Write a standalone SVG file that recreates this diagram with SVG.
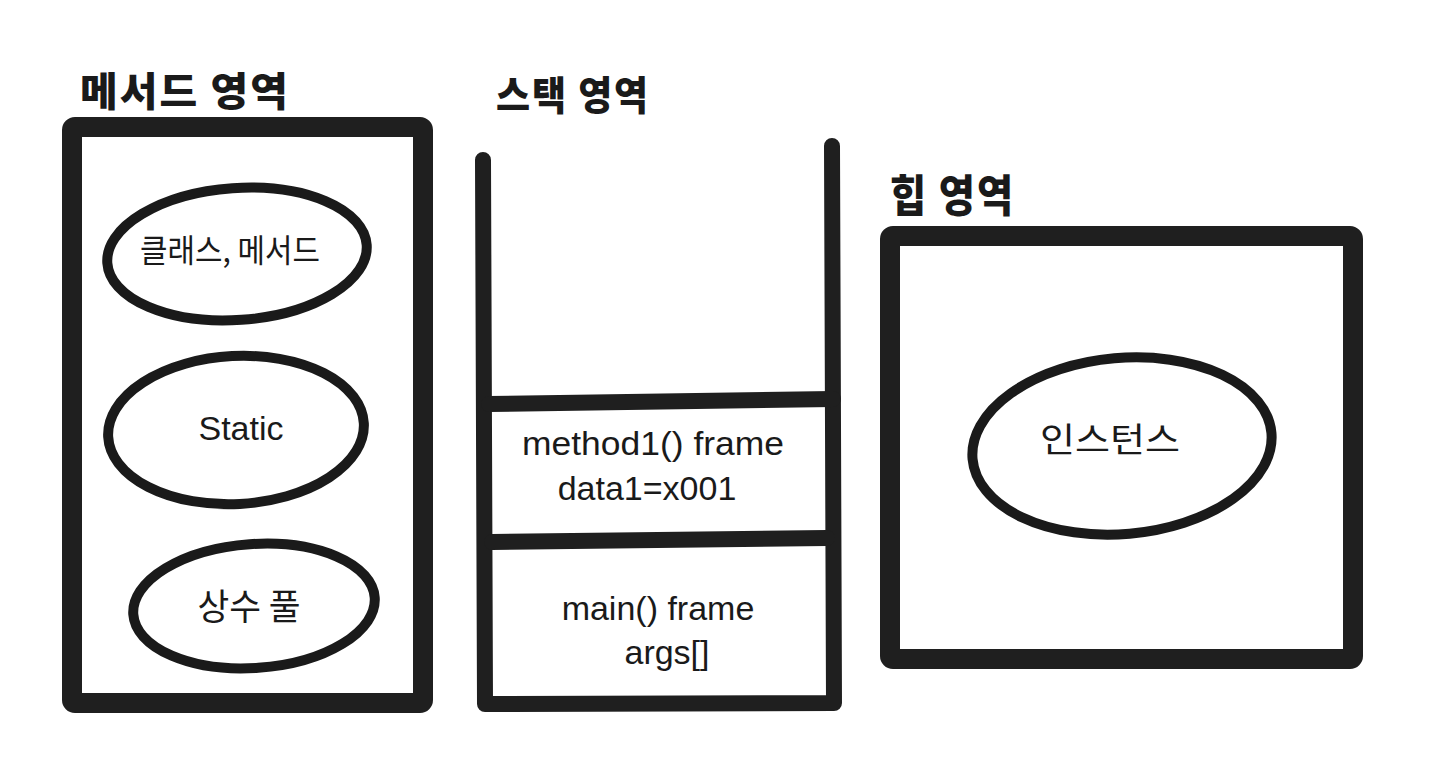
<svg xmlns="http://www.w3.org/2000/svg" width="1440" height="777" viewBox="0 0 1440 777">
<style>
.box{fill:none;stroke:#1f1f1f;stroke-width:20;stroke-linejoin:round;stroke-linecap:round}
.wall{fill:none;stroke:#1f1f1f;stroke-width:16;stroke-linecap:round;stroke-linejoin:round}
.ell{fill:none;stroke:#1a1a1a;stroke-width:10}
.title{font-family:"Noto Sans CJK KR","Noto Sans",sans-serif;font-weight:900;font-size:40px;fill:#1a1a1a;letter-spacing:2px}
.lbl{font-family:"Noto Sans CJK KR","Noto Sans",sans-serif;font-size:32px;fill:#1a1a1a;text-anchor:middle}
.en{font-family:"Liberation Sans",sans-serif;font-size:34px;fill:#1a1a1a;text-anchor:middle}
</style>
<rect width="1440" height="777" fill="#ffffff"/>
<g id="method-area">
<text class="title" x="80" y="106" textLength="210" lengthAdjust="spacingAndGlyphs">메서드 영역</text>
<rect class="box" x="72" y="127" width="351" height="576" rx="3"/>
</g>
<g id="class-method">
<ellipse class="ell" cx="237" cy="254" rx="130" ry="66" transform="rotate(-4 237 254)"/>
<text class="lbl" x="230" y="262" textLength="180" lengthAdjust="spacingAndGlyphs">클래스, 메서드</text>
</g>
<g id="static">
<ellipse class="ell" cx="236" cy="430" rx="128" ry="74" transform="rotate(-3 236 430)"/>
<text class="en" x="241" y="440">Static</text>
</g>
<g id="constant-pool">
<ellipse class="ell" cx="254" cy="606" rx="121" ry="62" transform="rotate(-4 254 606)"/>
<text class="lbl" x="249" y="620" style="font-size:36px" textLength="103" lengthAdjust="spacingAndGlyphs">상수 풀</text>
</g>
<g id="stack-area">
<text class="title" x="496" y="110" textLength="154" lengthAdjust="spacingAndGlyphs">스택 영역</text>
<path class="wall" d="M483 160 L485 704 L834 703 L832 146"/>
</g>
<g id="method1-frame">
<line class="wall" x1="489" y1="404" x2="833" y2="399"/>
<text class="en" x="653" y="455" textLength="262" lengthAdjust="spacingAndGlyphs">method1() frame</text>
<text class="en" x="647" y="500">data1=x001</text>
</g>
<g id="main-frame">
<line class="wall" x1="492" y1="542" x2="827" y2="538"/>
<text class="en" x="658" y="620">main() frame</text>
<text class="en" x="667" y="664">args[]</text>
</g>
<g id="heap-area">
<text class="title" x="890" y="212" style="font-size:44px" textLength="125" lengthAdjust="spacingAndGlyphs">힙 영역</text>
<rect class="box" x="890" y="236" width="463" height="423" rx="3"/>
</g>
<g id="instance">
<ellipse class="ell" cx="1122" cy="446" rx="150" ry="88" transform="rotate(-5 1122 446)"/>
<text class="lbl" x="1110" y="452" style="font-size:34px" textLength="140" lengthAdjust="spacingAndGlyphs">인스턴스</text>
</g>
<g id="connectors"></g>
</svg>
